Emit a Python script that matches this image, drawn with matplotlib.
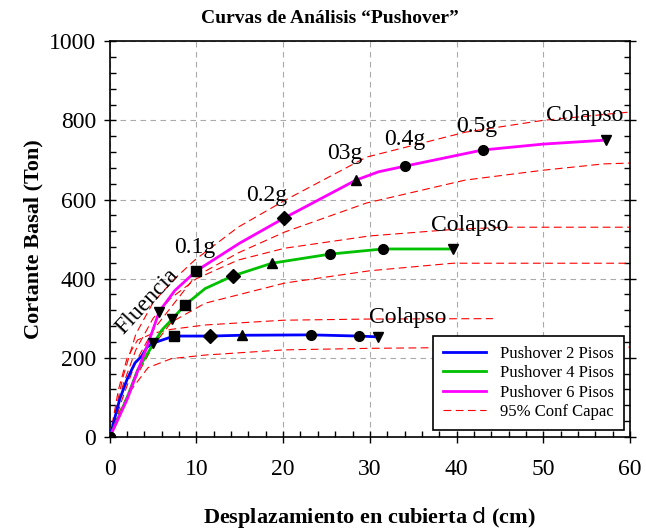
import matplotlib
matplotlib.use("Agg")
import matplotlib.pyplot as plt
from matplotlib.ticker import MultipleLocator

plt.rcParams["font.family"] = ["Liberation Serif", "DejaVu Serif"]
plt.rcParams["mathtext.fontset"] = "dejavusans"

# pushover curves (displacement cm, base shear Ton) and marker at each point
d2 = [0, 1.15, 2.0, 2.9, 3.7, 4.3, 4.96, 7.4, 11.6, 15.2, 23.2, 28.7, 30.9]
v2 = [0, 96, 146, 187, 205, 227, 237, 255, 255, 257, 258, 255, 253]
m2 = ["o", "", "", "", "", "", "v", "s", "D", "^", "o", "o", "v"]

d4 = [0, 2.0, 3.2, 4.8, 6.0, 7.2, 8.65, 11.0, 14.2, 18.7, 25.4, 31.5, 39.6]
v4 = [0, 100, 169, 227, 270, 298, 333, 375, 407, 439, 462, 475, 475]
m4 = ["o", "", "", "", "", "v", "s", "", "D", "^", "o", "o", "v"]

d6 = [0, 2.0, 3.1, 4.4, 5.7, 7.5, 10.0, 15.0, 20.1, 28.4, 31.0, 34.0, 43.0, 50.0, 57.2]
v6 = [0, 95, 160, 235, 317, 370, 420, 490, 553, 649, 670, 684, 725, 740, 750]
m6 = ["o", "", "", "", "v", "", "s", "", "D", "^", "", "o", "o", "", "v"]

# 95% confidence bounds of capacity
up2_d = [0, 1, 2, 3.2, 5, 7.1, 11, 20, 30, 44.2]
up2_v = [0, 120, 200, 245, 262, 272, 283, 295, 298, 299]
lo2_d = [0, 1, 2.5, 4.4, 7.1, 11, 20, 30, 40, 60]
lo2_v = [0, 60, 120, 175, 198, 207, 220, 224, 226, 227]
up4_d = [0, 1.5, 3, 5, 7, 10, 14.8, 20.2, 30, 40, 46, 60]
up4_v = [0, 130, 220, 300, 350, 400, 447, 477, 508, 525, 530, 530]
lo4_d = [0, 1.5, 3, 5, 7.1, 11, 20.2, 30, 39.6, 60]
lo4_v = [0, 80, 150, 230, 290, 338, 389, 420, 439, 439]
up6_d = [0, 1.5, 3, 5, 7.5, 9.8, 14.8, 20.2, 29.6, 41, 50, 60]
up6_v = [0, 150, 260, 340, 400, 447, 530, 598, 707, 770, 800, 821]
lo6_d = [0, 1.5, 3, 5, 7.5, 9.8, 14.8, 20.2, 29.6, 41, 50, 57, 60]
lo6_v = [0, 100, 190, 270, 340, 404, 465, 518, 591, 649, 674, 690, 692]

# annotations
notes = ["0.1g", "0.2g", "03g", "0.4g", "0.5g", "Colapso", "Colapso", "Colapso"]
note_x = [9.8, 18.1, 27.1, 34.0, 42.3, 54.8, 41.5, 34.4]
note_y = [478, 611, 717, 752, 785, 813, 535, 303]

fig = plt.figure(figsize=(6.46, 5.32), dpi=100)
ax = fig.add_axes([0.170, 0.1786, 0.805, 0.744])

dash = (0, (7, 4))
for dd, vv in [(up2_d, up2_v), (lo2_d, lo2_v), (up4_d, up4_v),
               (lo4_d, lo4_v), (up6_d, up6_v), (lo6_d, lo6_v)]:
    ax.plot(dd, vv, color="red", lw=0.8, linestyle=dash, zorder=2)

for dd, vv, mm, col in [(d2, v2, m2, "#0000ff"), (d4, v4, m4, "#00c000"),
                        (d6, v6, m6, "#ff00ff")]:
    ax.plot(dd, vv, color=col, lw=2.0, zorder=3, solid_capstyle="round")
    for x, y, m in zip(dd, vv, mm):
        if m:
            ax.plot(x, y, marker=m, color="black", ms=7, zorder=4)

for t, x, y in zip(notes, note_x, note_y):
    ax.text(x, y, t, fontsize=17, ha="center", va="center", zorder=5)
ax.text(4.3, 343, "Fluencia", fontsize=17, ha="center", va="center",
        rotation=47, zorder=5)

ax.set_xlim(0, 60)
ax.set_ylim(0, 1000)
ax.xaxis.set_major_locator(MultipleLocator(10))
ax.xaxis.set_minor_locator(MultipleLocator(2))
ax.yaxis.set_major_locator(MultipleLocator(200))
ax.yaxis.set_minor_locator(MultipleLocator(40))
ax.tick_params(which="major", direction="inout", length=8, width=1,
               labelsize=17, right=True, top=False)
ax.tick_params(which="minor", direction="in", length=4, width=1, right=True)
ax.tick_params(axis="x", pad=12)
ax.tick_params(axis="y", pad=6)
ax.grid(True, which="major", color="#aaaaaa", linestyle=(0, (5, 4)), lw=0.8)
for s in ax.spines.values():
    s.set_linewidth(1.2)

fig.text(0.51, 0.966, "Curvas de Análisis “Pushover”", fontsize=14,
         fontweight="bold", ha="center", va="center")
ax.set_xlabel(r"Desplazamiento en cubierta $\mathsf{d}$ (cm)", fontsize=16,
              fontweight="bold", labelpad=18)
ax.set_ylabel("Cortante Basal (Ton)", fontsize=16, fontweight="bold", labelpad=4)

handles = [
    plt.Line2D([], [], color="#0000ff", lw=2),
    plt.Line2D([], [], color="#00c000", lw=2),
    plt.Line2D([], [], color="#ff00ff", lw=2),
    plt.Line2D([], [], color="red", lw=0.8, linestyle=dash),
]
labels = ["Pushover 2 Pisos", "Pushover 4 Pisos", "Pushover 6 Pisos", "95% Conf Capac"]
leg = ax.legend(handles, labels, loc="lower right", bbox_to_anchor=(0.988, 0.018),
                borderaxespad=0, fontsize=12, frameon=True, fancybox=False,
                framealpha=1, edgecolor="black", handlelength=2.6,
                labelspacing=0.2, borderpad=0.6)
leg.get_frame().set_linewidth(1.2)
leg.set_zorder(6)

fig.savefig("out.png", dpi=100)
